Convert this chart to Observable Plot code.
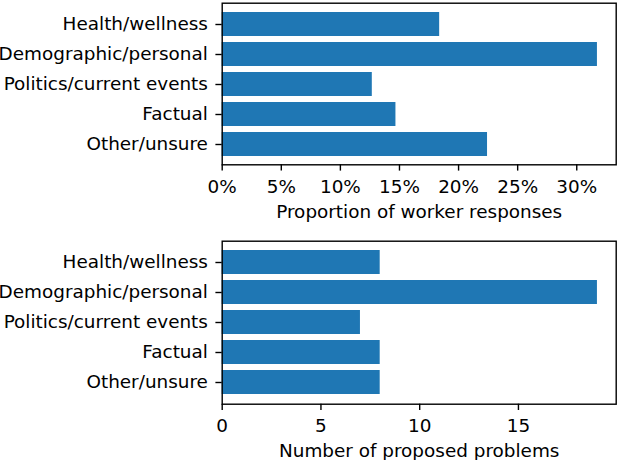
<!DOCTYPE html>
<html>
<head>
<meta charset="utf-8">
<script src="https://cdn.jsdelivr.net/npm/d3@7"></script>
<script src="https://cdn.jsdelivr.net/npm/@observablehq/plot@0.6"></script>
<style>
  html, body { margin: 0; padding: 0; background: white; }
  svg { display: block; }
</style>
</head>
<body>
<div id="chart"></div>
<script>
const categories = ["Health/wellness", "Demographic/personal", "Politics/current events", "Factual", "Other/unsure"];
const proportionValues = [0.184, 0.3175, 0.127, 0.147, 0.2245];
const problemCounts = [8, 19, 7, 8, 8];
const proportionTicks = [0, 0.05, 0.10, 0.15, 0.20, 0.25, 0.30];
const countTicks = [0, 5, 10, 15];
const proportionLabel = "Proportion of worker responses";
const countLabel = "Number of proposed problems";

const topData = categories.map((c, i) => ({category: c, value: proportionValues[i]}));
const bottomData = categories.map((c, i) => ({category: c, value: problemCounts[i]}));

const font = {fontFamily: "DejaVu Sans", fontSize: "18.4px", color: "black", background: "white", overflow: "visible"};

function panel(data, opts) {
  return Plot.plot({
    width: 618,
    height: 230,
    marginLeft: 221.7,
    marginRight: 2.3,
    marginTop: opts.marginTop,
    marginBottom: opts.marginBottom,
    style: font,
    x: {domain: opts.domain, axis: null},
    y: {domain: categories, paddingInner: 0.2, paddingOuter: 0.24, axis: null},
    marks: [
      Plot.barX(data, {x: "value", y: "category", fill: "#1f77b4"}),
      Plot.axisY({tickSize: 6.3, tickPadding: 8, strokeWidth: 1.4, label: null}),
      Plot.axisX({ticks: opts.ticks, tickFormat: opts.format, tickSize: 6.3, tickPadding: opts.tickPad, strokeWidth: 1.4, label: null}),
      Plot.frame({stroke: "black", strokeWidth: 1.4}),
      Plot.text([opts.label], {frameAnchor: "bottom", text: d => d, dy: opts.labelDy, lineAnchor: "bottom", fill: "black"})
    ]
  });
}

const topPanel = panel(topData, {
  marginTop: 2.7, marginBottom: 65.7,
  domain: [0, 0.3175 * 1.05],
  ticks: proportionTicks,
  format: d => Math.round(d * 100) + "%",
  tickPad: 9.0,
  labelDy: 53.3,
  label: proportionLabel
});
const bottomPanel = panel(bottomData, {
  marginTop: 10.7, marginBottom: 56.3,
  domain: [0, 19 * 1.05],
  ticks: countTicks,
  format: d => String(d),
  tickPad: 8.0,
  labelDy: 52.3,
  label: countLabel
});
document.getElementById("chart").append(topPanel, bottomPanel);
</script>
</body>
</html>
